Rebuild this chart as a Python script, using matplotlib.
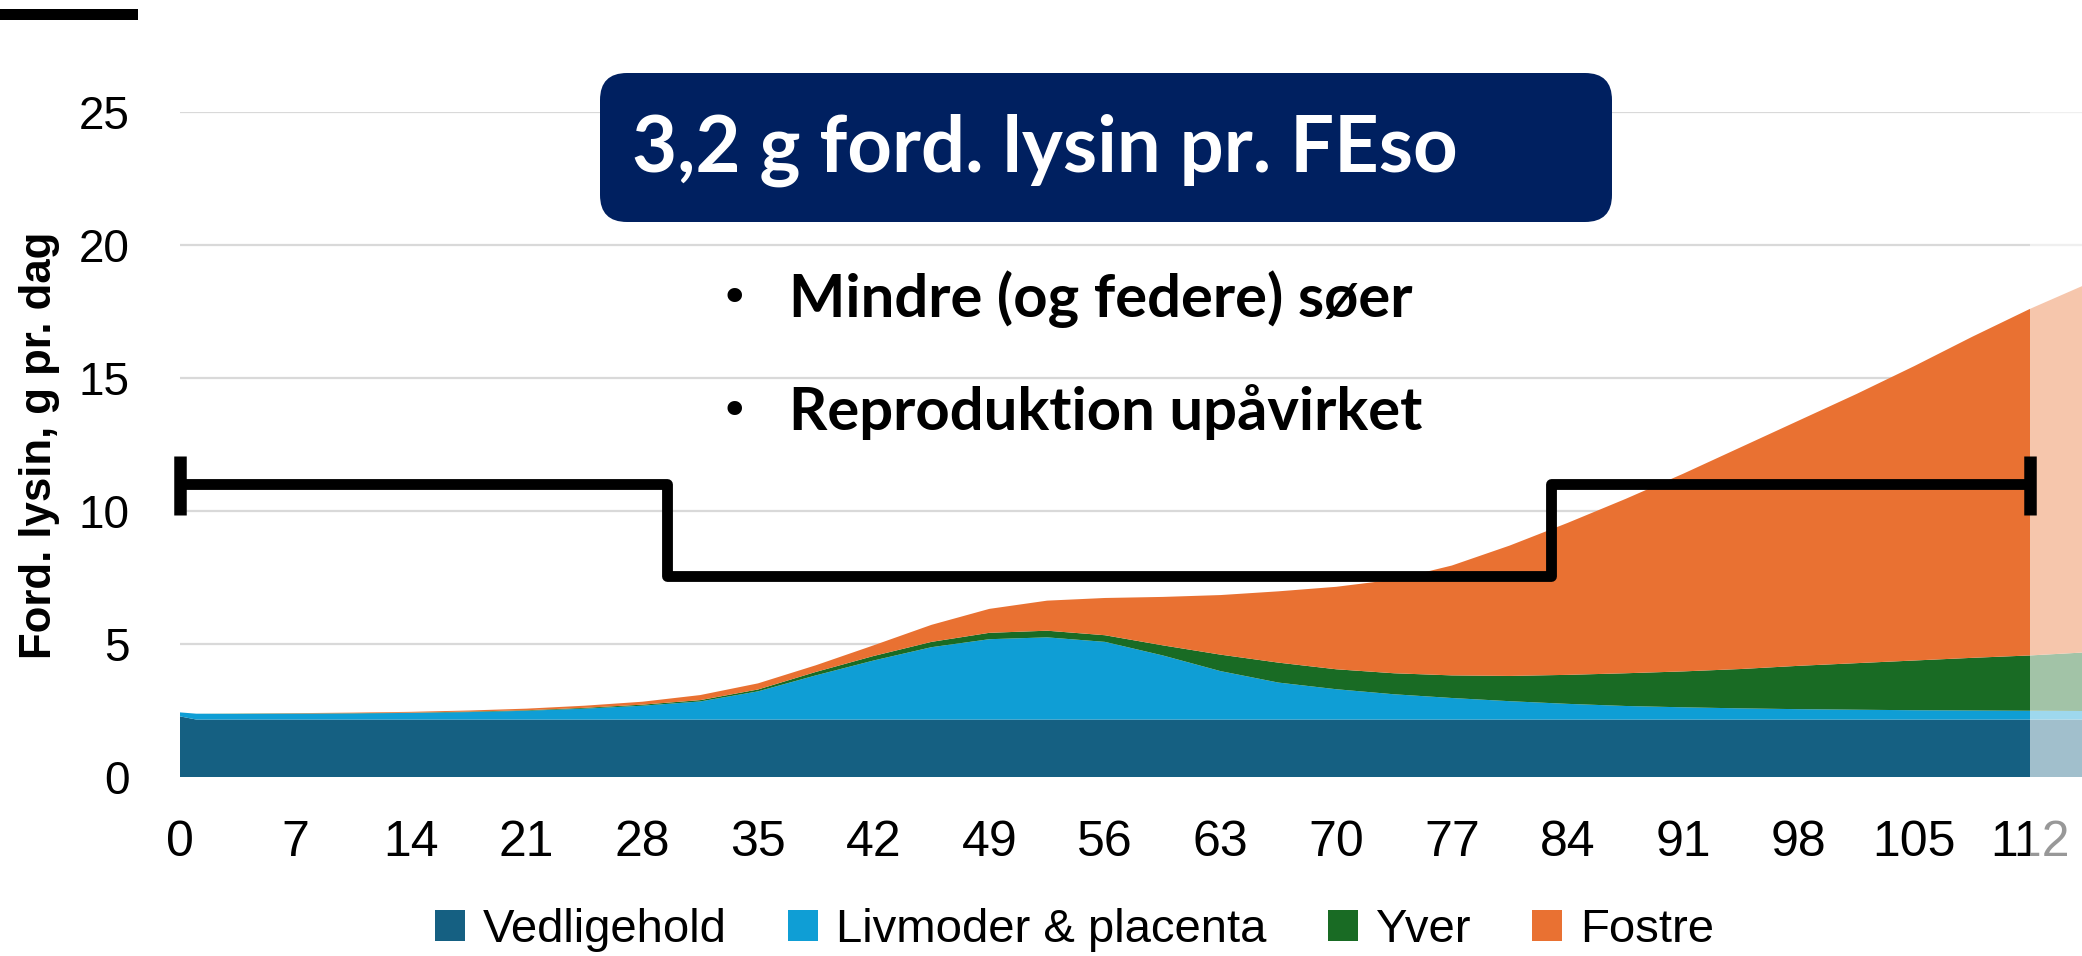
import matplotlib
matplotlib.use("Agg")
import matplotlib.pyplot as plt
from matplotlib.patches import FancyBboxPatch, Rectangle, Patch
from matplotlib.transforms import IdentityTransform

# lysin requirement per component, g pr. dag
days = [0, 1, 3.5, 7, 10.5, 14, 17.5, 21, 24.5, 28, 31.5, 35, 38.5, 42, 45.5, 49,
        52.5, 56, 59.5, 63, 66.5, 70, 73.5, 77, 80.5, 84, 87.5, 91, 94.5, 98,
        101.5, 105, 108.5, 112, 115.5]
vedligehold = [2.28, 2.16, 2.16, 2.16, 2.16, 2.16, 2.16, 2.16, 2.16, 2.16, 2.16,
               2.16, 2.16, 2.16, 2.16, 2.16, 2.16, 2.16, 2.16, 2.16, 2.16, 2.16,
               2.16, 2.16, 2.16, 2.16, 2.16, 2.16, 2.16, 2.16, 2.16, 2.16, 2.16,
               2.16, 2.16]
livmoder = [0.15, 0.22, 0.21, 0.22, 0.23, 0.25, 0.28, 0.33, 0.41, 0.52, 0.68,
            1.06, 1.66, 2.22, 2.72, 3.02, 3.09, 2.92, 2.41, 1.82, 1.39, 1.14,
            0.95, 0.81, 0.69, 0.59, 0.51, 0.46, 0.42, 0.39, 0.37, 0.35, 0.34,
            0.33, 0.32]
yver = [0.00, 0.00, 0.01, 0.01, 0.01, 0.01, 0.02, 0.02, 0.03, 0.04, 0.05, 0.07,
        0.13, 0.17, 0.20, 0.24, 0.25, 0.25, 0.38, 0.62, 0.75, 0.75, 0.79, 0.85,
        0.95, 1.09, 1.23, 1.35, 1.48, 1.63, 1.75, 1.87, 1.98, 2.08, 2.21]
fostre = [0.00, 0.00, 0.00, 0.01, 0.02, 0.03, 0.04, 0.06, 0.08, 0.11, 0.19, 0.23,
          0.25, 0.40, 0.64, 0.90, 1.13, 1.40, 1.82, 2.24, 2.68, 3.10, 3.52, 4.13,
          4.90, 5.71, 6.55, 7.43, 8.34, 9.22, 10.12, 11.07, 12.07, 13.03, 13.86]

series_names = ["Vedligehold", "Livmoder & placenta", "Yver", "Fostre"]
series_colors = ["#156082", "#0F9ED5", "#196B24", "#E97132"]

x_ticks = list(range(0, 113, 7))
y_ticks = [0, 5, 10, 15, 20, 25]

# feeding level (black step line)
step_days = [0, 29.5, 83, 112]
step_level = [11.0, 7.55, 11.0, 11.0]
cap_days = [0, 112]
cap_low, cap_high = 9.85, 12.05

title_text = "3,2 g ford. lysin pr. FEso"
bullet_lines = ["Mindre (og federe) søer", "Reproduktion upåvirket"]

W, H = 2082, 956
plt.rcParams["font.family"] = ["Liberation Sans", "DejaVu Sans"]

fig = plt.figure(figsize=(W / 100, H / 100), dpi=100)
ax_bottom = 1 - 777 / H
ax = fig.add_axes([179.8 / W, ax_bottom, 1 - 179.8 / W, (777 - 112) / H])
x_max = (W - 179.8) / 16.52

ax.stackplot(days, vedligehold, livmoder, yver, fostre,
             colors=series_colors, linewidth=0, zorder=2)

# faded part after day 112 (inside the plot)
ax.axvspan(112, x_max, facecolor="white", alpha=0.6, edgecolor="none", zorder=3)

ax.plot(step_days, step_level, drawstyle="steps-post", color="black",
        linewidth=7.8, solid_joinstyle="round", zorder=4, clip_on=False)
ax.vlines(cap_days, cap_low, cap_high, color="black", linewidth=9,
          zorder=4, clip_on=False)

# axes styling
ax.set_xlim(0, x_max)
ax.set_ylim(0, 25)
for s in ax.spines.values():
    s.set_visible(False)
ax.set_axisbelow(True)
ax.yaxis.grid(True, color="#D9D9D9", linewidth=1.6, zorder=0)
ax.set_yticks(y_ticks)
ax.set_yticklabels([str(t) for t in y_ticks], fontsize=33)
ax.set_xticks(x_ticks)
ax.set_xticklabels([str(t) for t in x_ticks], fontsize=36)
ax.tick_params(axis="y", length=0, pad=36)
ax.tick_params(axis="x", length=0, pad=31)

fig.text(40 / W, 1 - 445 / H, "Ford. lysin, g pr. dag", rotation=90,
         fontsize=31.5, fontweight="bold", ha="center", va="center")

handles = [Patch(facecolor=c, edgecolor="none") for c in series_colors]
fig.legend(handles, series_names, loc="center", bbox_to_anchor=(0.516, 1 - 930 / H),
           ncol=4, frameon=False, prop={"size": 34},
           handlelength=0.64, handleheight=0.64, handletextpad=0.38,
           columnspacing=1.3, borderaxespad=0)

# title box and bullets
box = FancyBboxPatch((600, H - 222), 1012, 149,
                     boxstyle="round,pad=0,rounding_size=27",
                     transform=IdentityTransform(), facecolor="#002060",
                     edgecolor="none", zorder=5)
fig.add_artist(box)
fig.text(632 / W, 1 - 150 / H, title_text, color="white", fontsize=56,
         fontweight="bold", family="Lato", ha="left", va="center", zorder=6)
for yy, line in zip([299, 412], bullet_lines):
    fig.text(734 / W, 1 - yy / H, "\u2022", fontsize=36, ha="center",
             va="center", family="DejaVu Sans")
    fig.text(789 / W, 1 - yy / H, line, fontsize=43, fontweight="bold",
             family="Lato", ha="left", va="center")

# short black bar top left
fig.add_artist(Rectangle((0, 1 - 20 / H), 138 / W, 11 / H, transform=fig.transFigure,
                         facecolor="black", edgecolor="none"))

# faded part after day 112 below the plot (tick label)
fig.add_artist(Rectangle((2030 / W, 0), 1 - 2030 / W, ax_bottom, transform=fig.transFigure,
                         facecolor="white", alpha=0.6, edgecolor="none", zorder=10))

fig.savefig("out.png", dpi=100)
